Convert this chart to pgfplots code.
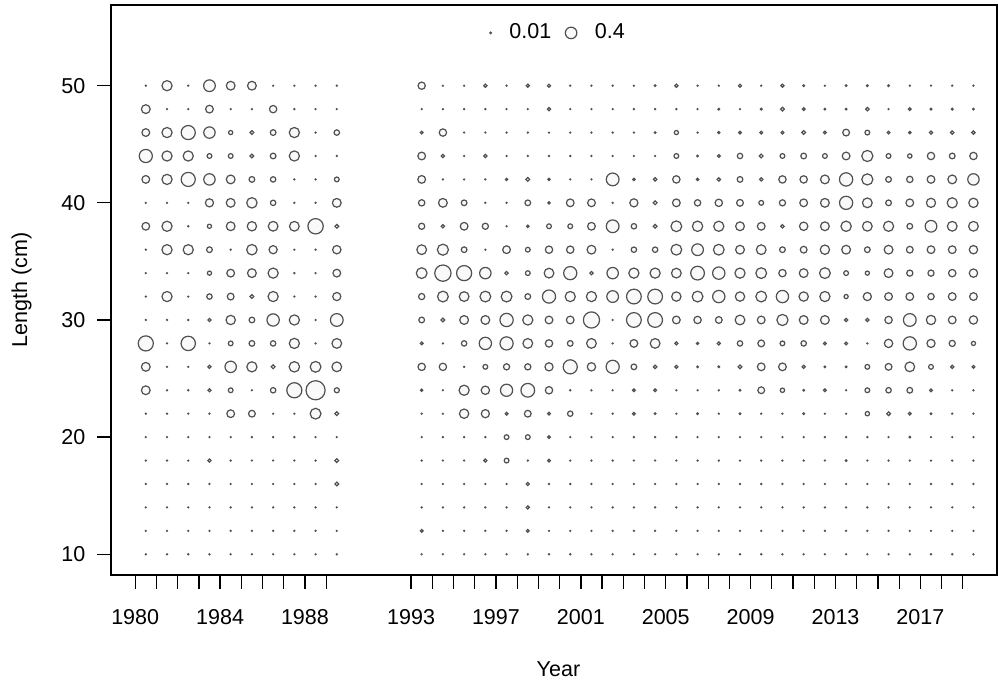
\documentclass[border=0pt]{standalone}
\usepackage{fontspec}
\setmainfont{Liberation Sans}
\usepackage{pgfplots}
\usepackage{pgfplotstable}
\pgfplotsset{compat=1.18}

\definecolor{bubbledraw}{RGB}{80,80,80}
\definecolor{bubblefill}{RGB}{249,249,249}
\newcommand{\chartfont}{\fontsize{10.8}{13}\selectfont}

% proportion at length by year (0 = empty cell)
\pgfplotstableread{
len y1980 y1981 y1982 y1983 y1984 y1985 y1986 y1987 y1988 y1989 y1993 y1994 y1995 y1996 y1997 y1998 y1999 y2000 y2001 y2002 y2003 y2004 y2005 y2006 y2007 y2008 y2009 y2010 y2011 y2012 y2013 y2014 y2015 y2016 y2017 y2018 y2019
50 0 0.325 0 0.42 0.25 0.25 0 0 0 0 0.18 0 0 0.053 0 0.048 0.048 0 0 0 0 0.02 0.053 0 0 0.048 0 0.048 0.02 0 0.02 0.02 0.02 0 0 0 0
48 0.25 0 0 0.2 0 0 0.185 0 0 0 0 0 0 0 0 0 0.048 0 0 0 0 0 0 0 0.02 0 0.02 0.063 0.04 0.02 0.02 0.053 0 0.04 0.02 0.02 0.02
46 0.2 0.325 0.59 0.4 0.073 0.063 0.12 0.325 0 0.11 0.04 0.185 0 0 0 0 0 0 0 0 0 0.02 0.073 0 0.029 0.04 0.04 0.04 0.063 0.04 0.16 0.09 0.04 0.032 0.048 0.053 0.053
44 0.52 0.325 0.325 0.09 0.09 0.063 0.12 0.325 0 0 0.2 0.053 0 0.053 0 0 0 0 0 0 0 0 0.09 0.02 0.04 0.11 0.063 0.09 0.12 0.09 0.2 0.384 0.09 0.078 0.185 0.12 0.185
42 0.2 0.325 0.59 0.4 0.25 0.12 0.11 0 0 0.09 0.2 0 0 0 0.029 0.063 0.032 0 0 0.49 0.032 0.053 0.185 0.032 0.053 0.12 0.053 0.185 0.185 0.25 0.53 0.384 0.12 0.144 0.2 0.25 0.4
40 0 0 0 0.22 0.25 0.34 0.11 0 0 0.25 0.144 0.25 0.12 0 0 0.12 0.032 0.2 0.2 0 0.22 0.063 0.2 0.144 0.185 0.16 0.09 0.137 0.2 0.25 0.52 0.3 0.12 0.2 0.27 0.325 0.28
38 0.2 0.325 0 0.073 0.25 0.28 0.3 0.3 0.69 0.063 0.137 0.053 0.2 0.137 0 0.032 0.09 0.09 0.2 0.49 0.11 0.063 0.36 0.336 0.325 0.25 0.2 0.053 0.23 0.25 0.336 0.3 0.325 0.12 0.42 0.3 0.3
36 0 0.325 0.325 0.12 0 0.34 0.22 0 0 0.23 0.3 0.38 0.12 0 0.2 0.09 0.185 0.185 0.25 0 0.11 0.11 0.36 0.42 0.36 0.25 0.3 0.12 0.16 0.28 0.25 0.12 0.25 0.16 0.2 0.2 0.23
34 0 0 0 0.073 0.2 0.25 0.325 0 0 0.2 0.36 0.77 0.67 0.4 0.053 0.09 0.3 0.52 0.053 0.4 0.325 0.325 0.3 0.56 0.46 0.325 0.36 0.185 0.25 0.36 0.09 0.073 0.25 0.137 0.137 0.185 0.23
32 0 0.325 0 0.11 0.16 0.063 0.325 0 0 0.22 0.137 0.36 0.3 0.36 0.36 0.12 0.52 0.325 0.325 0.42 0.64 0.64 0.28 0.36 0.46 0.28 0.36 0.46 0.28 0.325 0.073 0.22 0.2 0.2 0.144 0.2 0.2
30 0 0 0 0.048 0.28 0.12 0.46 0.325 0 0.49 0.12 0.063 0.25 0.25 0.53 0.325 0.2 0.2 0.76 0 0.64 0.64 0.2 0.185 0.16 0.3 0.2 0.384 0.25 0.25 0.053 0.053 0.185 0.49 0.28 0.2 0.23
28 0.67 0 0.61 0 0.09 0.12 0.11 0.325 0 0.3 0.04 0 0.11 0.46 0.52 0.3 0.185 0.12 0.3 0 0.2 0.3 0.048 0.029 0.048 0.11 0.16 0.09 0.11 0.04 0.04 0 0.23 0.53 0.22 0.137 0.073
26 0.25 0 0 0.048 0.4 0.325 0.063 0.34 0.36 0.3 0.185 0.185 0 0.09 0.137 0.137 0.22 0.59 0.23 0.52 0.12 0.053 0.048 0.02 0.02 0.063 0.2 0.2 0.048 0.02 0.02 0.09 0.16 0.3 0.09 0.048 0.04
24 0.25 0 0 0.048 0.09 0 0.11 0.67 1.04 0.1 0.032 0 0.325 0.23 0.45 0.56 0.185 0 0 0 0.04 0.04 0 0 0 0.02 0.16 0.078 0.02 0.04 0 0.09 0.11 0.12 0.04 0 0
22 0 0 0 0 0.2 0.16 0 0 0.36 0.063 0 0 0.28 0.22 0.04 0.16 0.04 0.11 0 0 0.04 0.02 0 0.02 0 0.02 0 0 0.02 0 0 0.078 0.063 0.04 0.02 0 0
20 0 0 0 0 0 0 0 0 0 0 0 0 0 0 0.09 0.09 0.04 0 0 0 0 0 0 0 0 0 0 0 0 0 0 0 0 0.02 0 0 0
18 0 0 0 0.048 0 0 0 0 0 0.063 0 0 0 0.048 0.09 0 0.04 0 0 0 0 0 0 0 0 0 0 0 0 0 0.02 0 0 0 0 0 0
16 0 0 0 0 0 0 0 0 0 0.063 0 0 0 0 0 0.048 0 0 0 0 0 0 0 0 0 0 0 0 0 0 0 0 0 0 0 0 0
14 0 0 0 0 0 0 0 0 0 0 0 0 0 0 0 0.048 0 0 0 0 0 0 0 0 0 0 0 0 0 0 0 0 0 0 0 0 0
12 0 0 0 0 0 0 0 0 0 0 0.04 0 0 0 0 0.04 0 0 0 0 0 0 0 0 0 0 0 0 0 0 0 0 0 0 0 0 0
10 0 0 0 0 0 0 0 0 0 0 0 0 0 0 0 0 0 0 0 0 0 0 0 0 0 0 0 0 0 0 0 0 0 0 0 0 0
}\bubbles

\pgfplotsset{
  bubble/.style={scatter, only marks, mark=*, forget plot,
    point meta={\thisrow{y#1}},
    scatter/use mapped color={draw=bubbledraw, fill=bubblefill},
    mark options={line width=0.6bp},
    visualization depends on={max(5*sqrt(\thisrow{y#1})-0.3,0.22) \as \rad},
    scatter/@pre marker code/.append style={/tikz/mark size=\rad}},
}

\begin{document}
\begin{tikzpicture}
\useasboundingbox (-55.5bp,-55.5bp) rectangle (443.5bp,287.5bp);
\begin{axis}[
  at={(0,0)}, anchor=south west,
  scale only axis, width=443bp, height=285bp,
  xmin=1978.86, xmax=2020.61, ymin=8.23, ymax=56.89,
  /pgf/number format/assume math mode=true,
  /pgf/number format/1000 sep={},
  xtick={1980,...,1989,1993,1994,...,2019},
  xticklabels={1980,,,,1984,,,,1988,,1993,,,,1997,,,,2001,,,,2005,,,,2009,,,,2013,,,,2017,,},
  ytick={10,20,30,40,50},
  xtick pos=bottom, ytick pos=left,
  tick align=outside,
  major tick length=6.8bp,
  every tick/.style={black, line width=0.65bp},
  axis line style={black, line width=0.65bp},
  tick label style={font=\chartfont},
  xticklabel style={yshift=-7bp},
  yticklabel style={xshift=-2.5bp},
  label style={font=\chartfont},
  xlabel={Year}, ylabel={Length (cm)},
  xlabel style={at={(axis description cs:0.505,-0.178)}, anchor=base},
  ylabel style={at={(axis description cs:-0.0948,0.5)}, anchor=base},
  legend style={at={(axis description cs:0.506,0.951)}, anchor=center,
    draw=none, fill=none, legend columns=-1, font=\chartfont,
    /tikz/every odd column/.append style={column sep=7bp},
    /tikz/every even column/.append style={column sep=5bp}},
]
\addlegendimage{only marks, mark=*, mark size=0.4, mark options={draw=bubbledraw, fill=bubblefill, line width=0.6bp}}
\addlegendentry{0.01}
\addlegendimage{only marks, mark=*, mark size=2.9, mark options={draw=bubbledraw, fill=bubblefill, line width=0.6bp}}
\addlegendentry{0.4}
\pgfplotsinvokeforeach{1980,...,1989}{
  \addplot[bubble=#1] table[x expr=#1+0.5, y=len]{\bubbles};
}
\pgfplotsinvokeforeach{1993,...,2019}{
  \addplot[bubble=#1] table[x expr=#1+0.5, y=len]{\bubbles};
}
\end{axis}
\end{tikzpicture}
\end{document}
